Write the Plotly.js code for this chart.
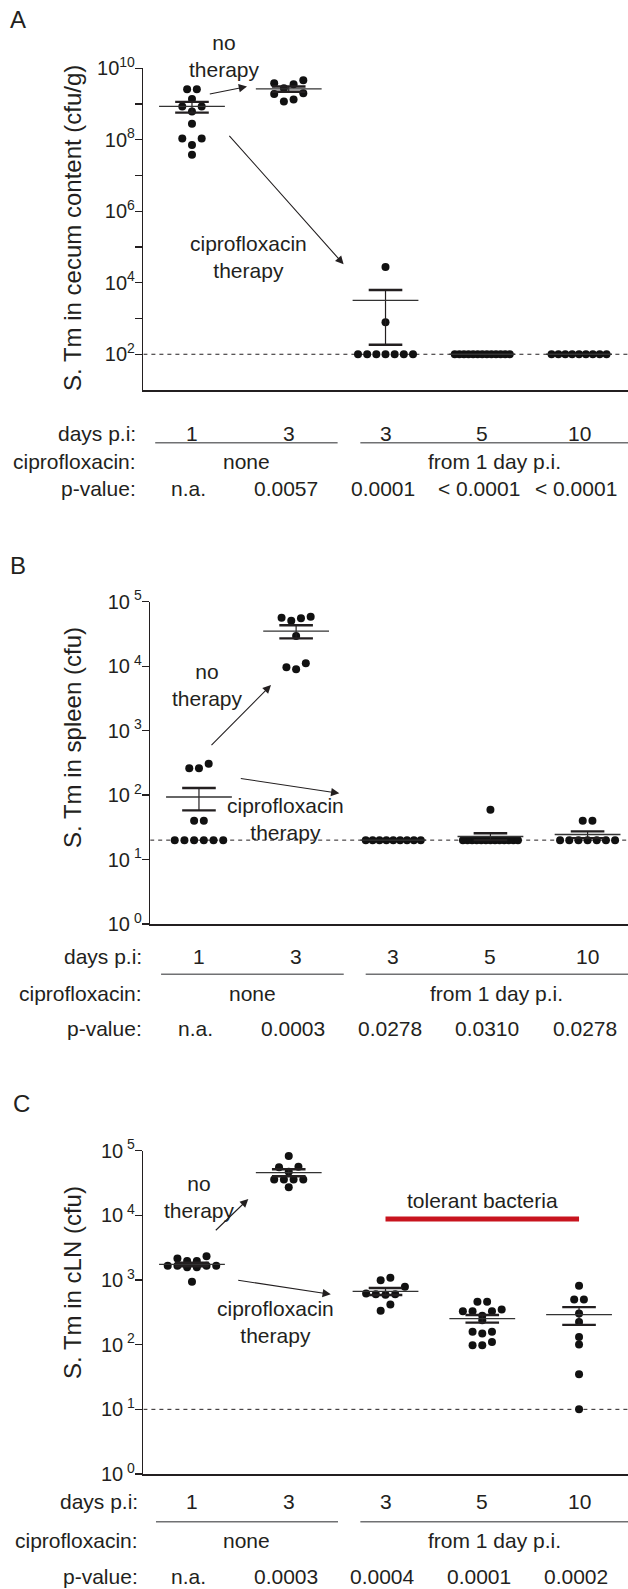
<!DOCTYPE html>
<html><head><meta charset="utf-8">
<script src="https://cdn.plot.ly/plotly-3.0.1.min.js"></script>
<style>html,body{margin:0;padding:0;background:#fff;}#chart{width:628px;height:1589px;}</style>
</head><body><div id="chart"></div>
<script>
// ---------------- DATA ----------------
const daysLabels = ["1", "3", "3", "5", "10"];
const ciproLabels = ["none", "from 1 day p.i."];
const pValuesA = ["n.a.", "0.0057", "0.0001", "< 0.0001", "< 0.0001"];
const pValuesB = ["n.a.", "0.0003", "0.0278", "0.0310", "0.0278"];
const pValuesC = ["n.a.", "0.0003", "0.0004", "0.0001", "0.0002"];

// Panel A: S. Tm in cecum content (cfu/g)
const cecumDay1None   = [2.6e9, 2.6e9, 1.38e9, 8.5e8, 8.5e8, 6.2e8, 2.8e8, 1.08e8, 1.08e8, 7.2e7, 3.8e7];
const cecumDay3None   = [4.6e9, 3.8e9, 3.6e9, 2.76e9, 2.0e9, 1.9e9, 1.35e9, 1.17e9];
const cecumDay3Cipro  = [2.76e4, 785, 100, 100, 100, 100, 100, 100, 100];
const cecumDay5Cipro  = [100, 100, 100, 100, 100, 100, 100, 100, 100, 100, 100, 100, 100];
const cecumDay10Cipro = [100, 100, 100, 100, 100, 100, 100, 100, 100];
const cecumLimit = 100;

// Panel B: S. Tm in spleen (cfu)
const spleenDay1None   = [305, 261, 261, 40, 40, 20, 20, 20, 20, 20, 20];
const spleenDay3None   = [58500, 56500, 55200, 50700, 29400, 11100, 9620, 8950];
const spleenDay3Cipro  = [20, 20, 20, 20, 20, 20, 20, 20, 20];
const spleenDay5Cipro  = [59, 20, 20, 20, 20, 20, 20, 20, 20, 20, 20, 20, 20, 20];
const spleenDay10Cipro = [40, 40, 20, 20, 20, 20, 20, 20, 20];
const spleenLimit = 20;

// Panel C: S. Tm in cLN (cfu)
const clnDay1None   = [2340, 2160, 1960, 1960, 1660, 1660, 1660, 1660, 1570, 1570, 940];
const clnDay3None   = [82700, 56500, 55300, 47300, 36000, 36000, 36000, 36000, 27100];
const clnDay3Cipro  = [1081, 996, 785, 617, 600, 600, 590, 419, 334];
const clnDay5Cipro  = [460, 460, 351, 330, 330, 330, 279, 239, 158, 158, 149, 110, 98, 98];
const clnDay10Cipro = [813, 501, 501, 304, 225, 132, 101, 35, 10];
const clnLimit = 10;

// ---------------- LAYOUT HELPERS ----------------
const W = 628, H = 1589;
const fx = px => px / W;
const fy = px => 1 - px / H;
const FONT = 'Liberation Sans, Arial, Helvetica, sans-serif';
const TXT = '#231f20';
const LINEGRAY = '#707173';

const panels = [
  { letter: 'A', lx: 18, ly: 20, sfx: '', groups: [cecumDay1None, cecumDay3None, cecumDay3Cipro, cecumDay5Cipro, cecumDay10Cipro],
    lod: cecumLimit, pvals: pValuesA, title: 'S. Tm in cecum content (cfu/g)', titleY: 228,
    xPx: [143.4, 628], yPx: [390, 68.3], yRange: [1, 10], xRange: [-0.502, 4.506],
    tickDec: [3,4,5,6,7,8,9,10], labDec: [2,4,6,8,10], sep: '',
    rowDays: 433.3, rowLine: 442.7, rowCipro: 461.7, rowP: 488.3, labRight: 138,
    brackets: [[-0.38, 1.505], [1.74, 4.506]],
    noTher: [224.3, 56], ciTher: [248.3, 257],
    arrows: [[208.3, 94.3, 247, 86.5], [228, 134.3, 343.6, 264.3]] },
  { letter: 'B', lx: 18, ly: 565, sfx: '2', groups: [spleenDay1None, spleenDay3None, spleenDay3Cipro, spleenDay5Cipro, spleenDay10Cipro],
    lod: spleenLimit, pvals: pValuesB, title: 'S. Tm in spleen (cfu)', titleY: 738,
    xPx: [150.2, 628], yPx: [924, 601.7], yRange: [0, 5], xRange: [-0.502, 4.416],
    tickDec: [0,1,2,3,4,5], labDec: [0,1,2,3,4,5], sep: '\u00a0',
    rowDays: 956.7, rowLine: 974.3, rowCipro: 993.3, rowP: 1028.3, labRight: 144,
    brackets: [[-0.39, 1.49], [1.716, 4.416]],
    noTher: [207, 685], ciTher: [285.5, 819],
    arrows: [[210, 746.7, 271, 685], [239.3, 778.3, 339.3, 793.3]] },
  { letter: 'C', lx: 21, ly: 1103, sfx: '3', groups: [clnDay1None, clnDay3None, clnDay3Cipro, clnDay5Cipro, clnDay10Cipro],
    lod: clnLimit, pvals: pValuesC, title: 'S. Tm in cLN (cfu)', titleY: 1283,
    xPx: [143.4, 628], yPx: [1474, 1150.7], yRange: [0, 5], xRange: [-0.502, 4.506],
    tickDec: [0,1,2,3,4,5], labDec: [0,1,2,3,4,5], sep: '\u00a0',
    rowDays: 1501.7, rowLine: 1521.7, rowCipro: 1540, rowP: 1576.7, labRight: 140,
    brackets: [[-0.372, 1.509], [1.74, 4.506]],
    noTher: [199.4, 1197], ciTher: [275, 1322],
    arrows: [[214.3, 1231.7, 248.3, 1199], [236.7, 1280, 330.8, 1294.3]] }
];

// beeswarm-like row layout (pixel offsets) computed from the values
function swarm(values, pxPerDecade) {
  const S = 9.7, maxHalf = 27.5, tolSpan = 8.5, tolGap = 7;
  const ypx = values.map(v => -Math.log10(v) * pxPerDecade);
  const idx = values.map((v, i) => i).sort((a, b) => ypx[a] - ypx[b]);
  const rows = []; let cur = null;
  idx.forEach(i => {
    if (cur && ypx[i] - ypx[cur[0]] < tolSpan && ypx[i] - ypx[cur[cur.length - 1]] < tolGap) cur.push(i);
    else { cur = [i]; rows.push(cur); }
  });
  const off = new Array(values.length).fill(0);
  rows.forEach(row => {
    const n = row.length;
    let s = S;
    if ((n - 1) * S / 2 > maxHalf) s = 2 * maxHalf / (n - 1);
    const slots = [];
    for (let k = 0; k < n; k++) slots.push((k - (n - 1) / 2) * s);
    slots.sort((a, b) => Math.abs(a) - Math.abs(b) || a - b);
    const byVal = row.slice().sort((a, b) => values[a] - values[b]);
    byVal.forEach((pi, k) => { off[pi] = slots[k]; });
  });
  return off;
}
const mean = a => a.reduce((s, v) => s + v, 0) / a.length;
const sem = a => { const m = mean(a); const sd = Math.sqrt(a.reduce((s, v) => s + (v - m) * (v - m), 0) / (a.length - 1)); return sd / Math.sqrt(a.length); };

const traces = [], shapes = [], annotations = [];
const layout = {
  width: W, height: H, margin: { l: 0, r: 0, t: 0, b: 0 }, showlegend: false,
  paper_bgcolor: '#fff', plot_bgcolor: 'rgba(0,0,0,0)', hovermode: false,
  font: { family: FONT, color: TXT }
};

panels.forEach(p => {
  const xa = 'x' + p.sfx, ya = 'y' + p.sfx;
  const pxPerUnit = (p.xPx[1] - p.xPx[0]) / (p.xRange[1] - p.xRange[0]);
  const pxPerDecade = (p.yPx[0] - p.yPx[1]) / (p.yRange[1] - p.yRange[0]);

  layout['xaxis' + p.sfx] = {
    domain: [fx(p.xPx[0]), fx(p.xPx[1])], range: p.xRange, anchor: ya,
    showline: true, linecolor: TXT, linewidth: 1.5, ticks: '', showticklabels: false,
    showgrid: false, zeroline: false, fixedrange: true
  };
  const tickvals = [], ticktext = [];
  const allDec = Array.from(new Set(p.tickDec.concat(p.labDec))).sort((a, b) => a - b);
  allDec.forEach(d => {
    tickvals.push(Math.pow(10, d));
    ticktext.push(p.labDec.includes(d) ? '10<sup>' + p.sep + d + '</sup>' : '');
  });
  layout['yaxis' + p.sfx] = {
    domain: [fy(p.yPx[0]), fy(p.yPx[1])], type: 'log', range: p.yRange, anchor: xa,
    tickmode: 'array', tickvals: tickvals, ticktext: ticktext,
    ticks: 'outside', ticklen: 7, tickwidth: 1.3, tickcolor: TXT, ticklabelstandoff: -4,
    showline: true, linecolor: TXT, linewidth: 1.5, showgrid: false, zeroline: false,
    tickfont: { family: FONT, size: 20, color: TXT }, fixedrange: true
  };

  // detection limit dashed line
  traces.push({ type: 'scatter', mode: 'lines', xaxis: xa, yaxis: ya,
    x: [p.xRange[0], p.xRange[1]], y: [p.lod, p.lod],
    line: { color: TXT, width: 1, dash: '4px,4px' } });

  // dots
  const dx = [], dy = [];
  p.groups.forEach((g, gi) => {
    const off = swarm(g, pxPerDecade);
    g.forEach((v, i) => { dx.push(gi + off[i] / pxPerUnit); dy.push(v); });
  });
  traces.push({ type: 'scatter', mode: 'markers', xaxis: xa, yaxis: ya, x: dx, y: dy, cliponaxis: false,
    marker: { size: 8, color: '#111', line: { width: 0 } } });

  // mean and SEM
  const gx = p.groups.map((g, i) => i);
  const means = p.groups.map(mean);
  const sems = p.groups.map(sem);
  const ex = [], ey = [], ee = [], cx = [], cy = [];
  p.groups.forEach((g, i) => {
    if (sems[i] > 0) {
      ex.push(i); ey.push(means[i]); ee.push(sems[i]);
      cx.push(i, i); cy.push(means[i] + sems[i], means[i] - sems[i]);
    }
  });
  traces.push({ type: 'scatter', mode: 'markers', xaxis: xa, yaxis: ya, x: ex, y: ey, cliponaxis: false,
    marker: { size: 1, opacity: 0 },
    error_y: { type: 'data', symmetric: false, array: ee, arrayminus: ee, width: 0, thickness: 1.2, color: TXT } });
  traces.push({ type: 'scatter', mode: 'markers', xaxis: xa, yaxis: ya, x: gx, y: means, cliponaxis: false,
    marker: { symbol: 'line-ew', size: 47, color: '#333', line: { width: 1.3, color: '#333' } } });
  traces.push({ type: 'scatter', mode: 'markers', xaxis: xa, yaxis: ya, x: cx, y: cy, cliponaxis: false,
    marker: { symbol: 'line-ew', size: 24, color: TXT, line: { width: 2.4, color: TXT } } });

  // panel letter
  annotations.push({ xref: 'paper', yref: 'paper', x: fx(p.lx), y: fy(p.ly), text: p.letter, showarrow: false,
    xanchor: 'center', yanchor: 'middle', font: { family: FONT, size: 24, color: TXT } });
  // y-axis title
  annotations.push({ xref: 'paper', yref: 'paper', x: fx(72), y: fy(p.titleY), text: p.title, textangle: -90,
    showarrow: false, xanchor: 'center', yanchor: 'middle', font: { family: FONT, size: 24, color: TXT } });
  // therapy labels
  annotations.push({ xref: 'paper', yref: 'paper', x: fx(p.noTher[0]), y: fy(p.noTher[1]), text: 'no<br>therapy',
    showarrow: false, xanchor: 'center', yanchor: 'middle', font: { family: FONT, size: 21, color: TXT } });
  annotations.push({ xref: 'paper', yref: 'paper', x: fx(p.ciTher[0]), y: fy(p.ciTher[1]), text: 'ciprofloxacin<br>therapy',
    showarrow: false, xanchor: 'center', yanchor: 'middle', font: { family: FONT, size: 21, color: TXT } });
  // arrows [tailX, tailY, headX, headY]
  p.arrows.forEach(a => {
    annotations.push({ xref: 'paper', yref: 'paper', x: fx(a[2]), y: fy(a[3]), ax: a[0] - a[2], ay: a[1] - a[3],
      axref: 'pixel', ayref: 'pixel', text: '', showarrow: true, arrowhead: 2, arrowsize: 1.5, arrowwidth: 1.1,
      arrowcolor: TXT, standoff: 0 });
  });

  // table rows
  const rowLab = (txt, yPx) => annotations.push({ xref: 'paper', yref: 'paper', x: fx(p.labRight), y: fy(yPx), text: txt,
    showarrow: false, xanchor: 'right', yanchor: 'middle', font: { family: FONT, size: 21, color: TXT } });
  rowLab('days p.i:', p.rowDays);
  rowLab('ciprofloxacin:', p.rowCipro);
  rowLab('p-value:', p.rowP);
  daysLabels.forEach((t, i) => annotations.push({ xref: xa, yref: 'paper', x: i, y: fy(p.rowDays), text: t,
    showarrow: false, xanchor: 'center', yanchor: 'middle', font: { family: FONT, size: 21, color: TXT } }));
  p.pvals.forEach((t, i) => annotations.push({ xref: xa, yref: 'paper', x: i, y: fy(p.rowP), text: t, xshift: -3,
    showarrow: false, xanchor: 'center', yanchor: 'middle', font: { family: FONT, size: 21, color: TXT } }));
  p.brackets.forEach((b, k) => {
    shapes.push({ type: 'line', xref: xa, yref: 'paper', x0: b[0], x1: b[1], y0: fy(p.rowLine), y1: fy(p.rowLine),
      line: { color: LINEGRAY, width: 1.4 } });
    annotations.push({ xref: xa, yref: 'paper', x: (b[0] + b[1]) / 2, y: fy(p.rowCipro), text: ciproLabels[k],
      showarrow: false, xanchor: 'center', yanchor: 'middle', font: { family: FONT, size: 21, color: TXT } });
  });
});

// tolerant bacteria marker (panel C, groups 3 to 5)
shapes.push({ type: 'line', xref: 'x3', yref: 'paper', x0: 2, x1: 4, y0: fy(1219), y1: fy(1219),
  line: { color: '#c8141e', width: 5 } });
annotations.push({ xref: 'x3', yref: 'paper', x: 3, y: fy(1200), text: 'tolerant bacteria', showarrow: false,
  xanchor: 'center', yanchor: 'middle', font: { family: FONT, size: 21, color: TXT } });

layout.shapes = shapes;
layout.annotations = annotations;

Plotly.newPlot('chart', traces, layout, { staticPlot: true, displayModeBar: false });
</script>
</body></html>
